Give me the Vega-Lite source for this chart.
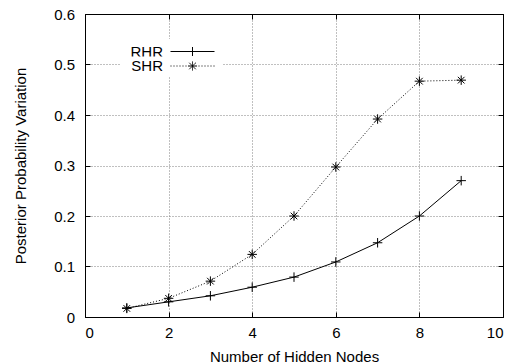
{
  "$schema": "https://vega.github.io/schema/vega-lite/v6.json",
  "width": 418,
  "height": 303,
  "autosize": {"type": "none"},
  "padding": {"left": 85, "top": 14, "right": 12, "bottom": 47},
  "background": "white",
  "config": {
    "font": "Liberation Sans",
    "view": {"stroke": "black", "strokeWidth": 1},
    "axis": {
      "labelFont": "Liberation Sans",
      "labelFontSize": 15,
      "labelColor": "black",
      "titleFont": "Liberation Sans",
      "titleFontSize": 15,
      "titleFontWeight": "normal",
      "titleColor": "black",
      "domainColor": "black",
      "tickColor": "black",
      "tickSize": -5,
      "gridColor": "#808080",
      "gridDash": [1, 2],
      "gridOpacity": 1,
      "gridWidth": 1
    },
    "legend": {
      "orient": "none",
      "fillColor": "white",
      "labelFont": "Liberation Sans",
      "labelFontSize": 15,
      "labelColor": "black",
      "labelAlign": "right",
      "labelOffset": -37,
      "symbolOffset": 60,
      "symbolSize": 100,
      "symbolStrokeColor": "black",
      "symbolStrokeWidth": 1,
      "symbolFillColor": "transparent"
    }
  },
  "data": {
    "values": [
      {"nodes": 1, "variation": 0.018, "method": "RHR"},
      {"nodes": 2, "variation": 0.030, "method": "RHR"},
      {"nodes": 3, "variation": 0.042, "method": "RHR"},
      {"nodes": 4, "variation": 0.059, "method": "RHR"},
      {"nodes": 5, "variation": 0.079, "method": "RHR"},
      {"nodes": 6, "variation": 0.109, "method": "RHR"},
      {"nodes": 7, "variation": 0.147, "method": "RHR"},
      {"nodes": 8, "variation": 0.200, "method": "RHR"},
      {"nodes": 9, "variation": 0.270, "method": "RHR"},
      {"nodes": 1, "variation": 0.017, "method": "SHR"},
      {"nodes": 2, "variation": 0.037, "method": "SHR"},
      {"nodes": 3, "variation": 0.071, "method": "SHR"},
      {"nodes": 4, "variation": 0.124, "method": "SHR"},
      {"nodes": 5, "variation": 0.200, "method": "SHR"},
      {"nodes": 6, "variation": 0.297, "method": "SHR"},
      {"nodes": 7, "variation": 0.392, "method": "SHR"},
      {"nodes": 8, "variation": 0.467, "method": "SHR"},
      {"nodes": 9, "variation": 0.469, "method": "SHR"}
    ]
  },
  "layer": [
    {
      "transform": [{"filter": "datum.method === 'RHR'"}],
      "mark": {"type": "line", "color": "black", "strokeWidth": 1},
      "encoding": {
        "x": {
          "field": "nodes",
          "type": "quantitative",
          "scale": {"domain": [0, 10], "nice": false},
          "axis": {
            "title": "Number of Hidden Nodes",
            "values": [0, 2, 4, 6, 8, 10],
            "grid": true,
            "labelPadding": 13,
            "titlePadding": 9
          }
        },
        "y": {
          "field": "variation",
          "type": "quantitative",
          "scale": {"domain": [0, 0.6], "nice": false},
          "axis": {
            "title": "Posterior Probability Variation",
            "values": [0, 0.1, 0.2, 0.3, 0.4, 0.5, 0.6],
            "format": "~g",
            "grid": true,
            "labelPadding": 15.5,
            "titlePadding": 25
          }
        },
        "color": {
          "field": "method",
          "type": "nominal",
          "scale": {"domain": ["RHR"], "range": ["black"]},
          "legend": {
            "title": null,
            "legendX": 35,
            "legendY": 25,
            "padding": 5,
            "symbolType": "M-4.4,0H4.4M0,-0.9V0.9"
          }
        }
      }
    },
    {
      "transform": [{"filter": "datum.method === 'SHR'"}],
      "mark": {"type": "line", "color": "black", "strokeWidth": 1, "strokeDash": [1, 2]},
      "encoding": {
        "x": {"field": "nodes", "type": "quantitative", "axis": null},
        "y": {"field": "variation", "type": "quantitative", "axis": null},
        "stroke": {
          "field": "method",
          "type": "nominal",
          "scale": {"domain": ["SHR"], "range": ["black"]},
          "legend": {
            "title": null,
            "legendX": 38,
            "legendY": 42.5,
            "padding": 2,
            "symbolType": "M-4.4,0h0.2M-3.8,0h0.2M-3.2,0h0.2M-2.6,0h0.2M-2,0h0.2M-1.4,0h0.2M1.2,0h0.2M1.8,0h0.2M2.4,0h0.2M3,0h0.2M3.6,0h0.2M4.2,0h0.2M-0.9,0h0.2M-0.7,0h0.2M-0.5,0h0.2M-0.3,0h0.2M-0.1,0h0.2M0.1,0h0.2M0.3,0h0.2M0.5,0h0.2M0.7,0h0.2M0,-0.9v0.2M0,-0.7v0.2M0,-0.5v0.2M0,-0.3v0.2M0,-0.1v0.2M0,0.1v0.2M0,0.3v0.2M0,0.5v0.2M0,0.7v0.2M-0.65,-0.65l0.13,0.13M-0.52,-0.52l0.13,0.13M-0.39,-0.39l0.13,0.13M-0.26,-0.26l0.13,0.13M-0.13,-0.13l0.13,0.13M0,0l0.13,0.13M0.13,0.13l0.13,0.13M0.26,0.26l0.13,0.13M0.39,0.39l0.13,0.13M0.52,0.52l0.13,0.13M-0.65,0.65l0.13,-0.13M-0.52,0.52l0.13,-0.13M-0.39,0.39l0.13,-0.13M-0.26,0.26l0.13,-0.13M-0.13,0.13l0.13,-0.13M0,0l0.13,-0.13M0.13,-0.13l0.13,-0.13M0.26,-0.26l0.13,-0.13M0.39,-0.39l0.13,-0.13M0.52,-0.52l0.13,-0.13"
          }
        }
      }
    },
    {
      "transform": [{"filter": "datum.method === 'RHR'"}],
      "mark": {"type": "point", "shape": "M-1,0H1M0,-1V1", "filled": false, "color": "black", "strokeWidth": 1, "size": 90, "opacity": 1},
      "encoding": {
        "x": {
          "field": "nodes",
          "type": "quantitative",
          "axis": {"orient": "top", "values": [0, 2, 4, 6, 8, 10], "labels": false, "title": null, "grid": false}
        },
        "y": {
          "field": "variation",
          "type": "quantitative",
          "axis": {"orient": "right", "values": [0, 0.1, 0.2, 0.3, 0.4, 0.5, 0.6], "labels": false, "title": null, "grid": false}
        }
      }
    },
    {
      "transform": [{"filter": "datum.method === 'SHR'"}],
      "mark": {"type": "point", "shape": "M-1,0H1M0,-1V1M-0.7,-0.7L0.7,0.7M-0.7,0.7L0.7,-0.7", "filled": false, "color": "black", "strokeWidth": 1, "size": 90, "opacity": 1},
      "encoding": {
        "x": {"field": "nodes", "type": "quantitative", "axis": null},
        "y": {"field": "variation", "type": "quantitative", "axis": null}
      }
    }
  ],
  "resolve": {"axis": {"x": "independent", "y": "independent"}}
}
